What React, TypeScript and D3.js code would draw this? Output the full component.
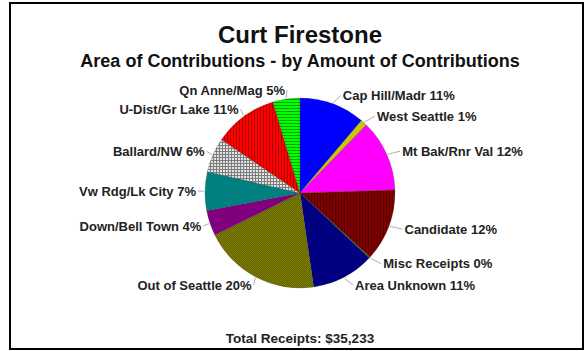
import React from "react";
import * as d3 from "d3";

const categories = [
  "Cap Hill/Madr",
  "West Seattle",
  "Mt Bak/Rnr Val",
  "Candidate",
  "Misc Receipts",
  "Area Unknown",
  "Out of Seattle",
  "Down/Bell Town",
  "Vw Rdg/Lk City",
  "Ballard/NW",
  "U-Dist/Gr Lake",
  "Qn Anne/Mag",
];
const shares = [11.2, 1.1, 12.2, 12.3, 0.2, 10.7, 20.0, 4.3, 6.6, 5.9, 10.9, 4.6];
const sliceFills = [
  "#0000FF",
  "#C8C800",
  "#FF00FF",
  "url(#pCand)",
  "#008000",
  "#000080",
  "url(#pOut)",
  "#800080",
  "#008080",
  "url(#pBall)",
  "url(#pUdist)",
  "url(#pQn)",
];
const title = "Curt Firestone";
const subtitle = "Area of Contributions - by Amount of Contributions";
const totalLabel = "Total Receipts: $35,233";

const W = 585;
const H = 351;
const cx = 300;
const cy = 193;
const R = 95;
const FONT = "'Liberation Sans', Arial, Helvetica, sans-serif";

export default function App() {
  const pie = d3.pie<number>().sort(null).value((d) => d);
  const arcs = pie(shares);
  const arcGen = d3.arc<d3.PieArcDatum<number>>().innerRadius(0).outerRadius(R);

  return (
    <div style={{ position: "absolute", left: 0, top: 0 }}>
      <svg width={W} height={H} xmlns="http://www.w3.org/2000/svg" style={{ display: "block", background: "#fff" }}>
        <defs>
          <pattern id="pQn" width="3" height="3" patternUnits="userSpaceOnUse">
            <rect width="3" height="3" fill="#00FF00" />
            <rect y="2" width="3" height="1" fill="#00A000" />
          </pattern>
          <pattern id="pUdist" width="3" height="3" patternUnits="userSpaceOnUse">
            <rect width="3" height="3" fill="#FF0000" />
            <rect x="2" width="1" height="3" fill="#B00000" />
          </pattern>
          <pattern id="pCand" width="3" height="3" patternUnits="userSpaceOnUse">
            <rect width="3" height="3" fill="#800000" />
            <rect x="2" width="1" height="3" fill="#580000" />
          </pattern>
          <pattern id="pBall" width="3" height="3" patternUnits="userSpaceOnUse">
            <rect width="3" height="3" fill="#E4E4E4" />
            <rect width="3" height="1" fill="#7C7C7C" />
            <rect width="1" height="3" fill="#7C7C7C" />
          </pattern>
          <pattern id="pOut" width="2" height="2" patternUnits="userSpaceOnUse">
            <rect width="2" height="2" fill="#7C7C00" />
            <rect width="1" height="1" fill="#666600" />
            <rect x="1" y="1" width="1" height="1" fill="#666600" />
          </pattern>
        </defs>

        <rect x={10} y={3} width={573} height={346} fill="#fff" stroke="#000" strokeWidth={2} />

        <text x={300} y={43} textAnchor="middle" fontFamily={FONT} fontWeight="bold" fontSize={24} fill="#111">
          {title}
        </text>
        <text x={300} y={67} textAnchor="middle" fontFamily={FONT} fontWeight="bold" fontSize={18} fill="#111">
          {subtitle}
        </text>

        <g transform={`translate(${cx},${cy})`}>
          {arcs.map((a, i) => (
            <path key={i} d={arcGen(a) || ""} fill={sliceFills[i]} stroke="#333" strokeWidth={0.25} />
          ))}
        </g>

        {arcs.map((a, i) => {
          const mid = (a.startAngle + a.endAngle) / 2;
          const right = mid < Math.PI;
          const s = Math.sin(mid);
          const c = Math.cos(mid);
          const lx = cx + 104 * s;
          const ly = cy - 104 * c;
          const tx = right ? lx + 7 : lx;
          const ex = cx + (R + 1) * s;
          const ey = cy - (R + 1) * c;
          const pct = Math.round(shares[i]);
          return (
            <g key={i}>
              <line x1={ex} y1={ey} x2={right ? tx - 2 : tx + 2} y2={ly} stroke="#999" strokeWidth={0.8} />
              <text
                x={tx}
                y={ly}
                dy="0.35em"
                textAnchor={right ? "start" : "end"}
                fontFamily={FONT}
                fontWeight="bold"
                fontSize={13}
                fill="#222"
              >
                {`${categories[i]} ${pct}%`}
              </text>
            </g>
          );
        })}

        <text x={300} y={343} textAnchor="middle" fontFamily={FONT} fontWeight="bold" fontSize={13.5} fill="#222">
          {totalLabel}
        </text>
      </svg>
    </div>
  );
}
